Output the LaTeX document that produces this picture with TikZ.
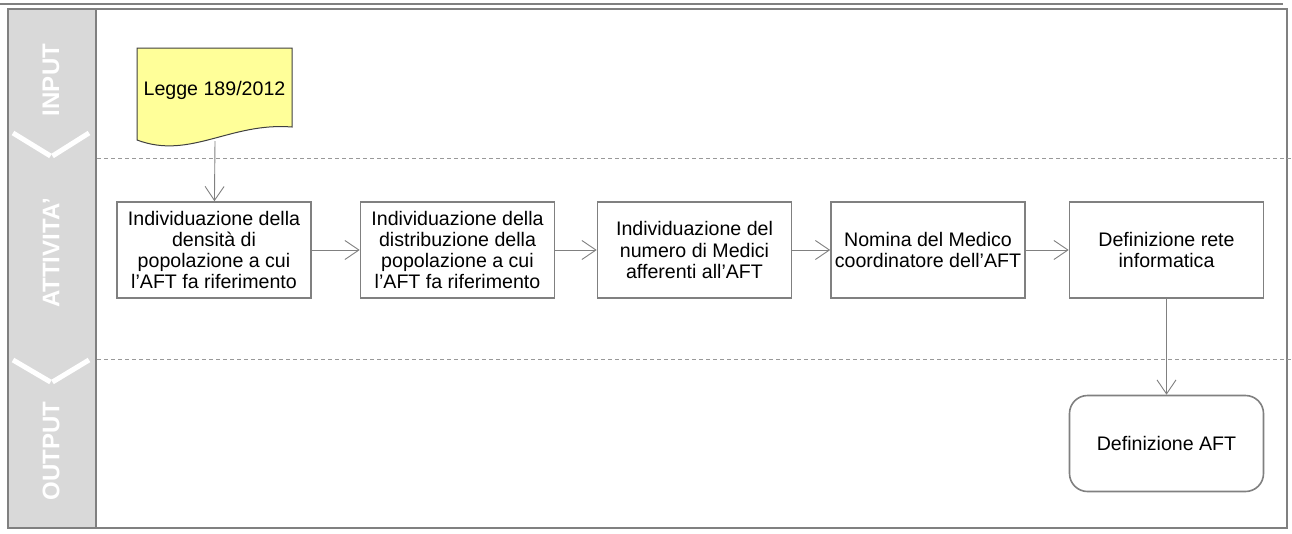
\documentclass[tikz,border=0pt]{standalone}
\usepackage{fontspec}
\setmainfont{Liberation Sans}
\usetikzlibrary{arrows.meta}
\definecolor{framegray}{HTML}{808080}
\definecolor{bandgray}{HTML}{D9D9D9}
\definecolor{docyellow}{HTML}{FFFF99}
\tikzset{
	procbox/.style={draw=framegray,line width=1.6pt,fill=white,minimum width=194pt,minimum height=96pt,align=center,inner sep=2pt,font=\fontsize{19.6}{21.2}\selectfont},
	outbox/.style={procbox,rounded corners=18pt},
	doctext/.style={font=\fontsize{19.6}{21.2}\selectfont},
	flow/.style={draw=framegray,line width=0.9pt,-{Straight Barb[length=14pt,width=19pt]}},
	lanelabel/.style={rotate=90,text=white,font=\bfseries\fontsize{24}{26}\selectfont},
	lanesep/.style={draw=framegray!80,line width=0.8pt,dash pattern=on 4pt off 3pt},
	chevron/.style={draw=white,line width=5pt}
}
\begin{document}
\begin{tikzpicture}[x=1pt,y=-1pt]
		\useasboundingbox (0,0) rectangle (1292,533);
		\fill[white] (0,0) rectangle (1292,533);
		
		\draw[framegray,line width=2.2pt] (0,4) -- (1283,4);
		\fill[bandgray] (8,9) rectangle (96,528);
		\draw[framegray,line width=2.2pt] (8,9) rectangle (1287,528);
		\draw[framegray,line width=1.8pt] (96,9) -- (96,528);
		
		\draw[lanesep] (97,158) -- (1292,158);
		\draw[lanesep] (97,359) -- (1292,359);
		
		\draw[chevron] (13,133) -- (50.5,156);
		\draw[chevron] (52.5,156) -- (89,133);
		\draw[chevron] (13,360) -- (50.5,382);
		\draw[chevron] (52.5,382) -- (89,360);
		
		\node[lanelabel] (lin) at (51,80) {INPUT};
		\node[lanelabel] (latt) at (51,253) {ATTIVITA’};
		\node[lanelabel] (lout) at (51,451) {OUTPUT};
		
		\filldraw[fill=docyellow,draw=black!75,line width=1pt] (137,48) -- (292,48) -- (292,127) .. controls (230,122) and (190,160) .. (137,140) -- cycle;
		\node[doctext] (legge) at (214.5,90) {Legge 189/2012};
		\coordinate (leggebot) at (215,141);
		
		\node[procbox] (dens) at (214,250) {Individuazione della\\densità di\\popolazione a cui\\l’AFT fa riferimento};
		\node[procbox] (distr) at (457.5,250) {Individuazione della\\distribuzione della\\popolazione a cui\\l’AFT fa riferimento};
		\node[procbox] (medici) at (694.5,250) {Individuazione del\\numero di Medici\\afferenti all’AFT};
		\node[procbox] (coord) at (928,250) {Nomina del Medico\\coordinatore dell’AFT};
		\node[procbox] (rete) at (1166.5,250) {Definizione rete\\informatica};
		
		\node[outbox] (aft) at (1166.5,443.5) {Definizione AFT};
		
		\draw[flow] (leggebot) -- (dens);
		\draw[flow] (dens) -- (distr);
		\draw[flow] (distr) -- (medici);
		\draw[flow] (medici) -- (coord);
		\draw[flow] (coord) -- (rete);
		\draw[flow] (rete) -- (aft);
	\end{tikzpicture}
\end{document}
